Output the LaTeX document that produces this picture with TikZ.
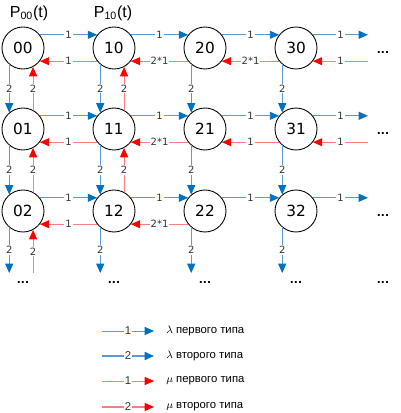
\documentclass[tikz,border=0pt]{standalone}
\usepackage{fontspec}
\setmainfont{Liberation Sans}
\newfontfamily\verd{DejaVu Sans}
\usetikzlibrary{arrows.meta}

\definecolor{lamline}{HTML}{5B9BD5}
\definecolor{lamtip}{HTML}{0070C0}
\definecolor{muline}{HTML}{FF7C80}
\definecolor{mutip}{HTML}{FF0000}

\tikzset{
  state/.style={circle, draw, line width=0.65pt, minimum size=31.5pt, inner sep=0pt,
    font=\verd\fontsize{11.5}{13}\selectfont},
  lam/.style={draw=lamline, line width=0.7pt,
    -{Triangle[length=7pt,width=6pt,color=lamtip]}},
  mu/.style={draw=muline, line width=0.7pt,
    -{Triangle[length=7pt,width=6pt,color=mutip]}},
  rate/.style={fill=white, inner sep=0.8pt, text=black!80,
    font=\verd\fontsize{7.5}{9}\selectfont},
  dots/.style={font=\verd\bfseries\fontsize{8}{9}\selectfont},
  legtext/.style={anchor=west, inner sep=0pt, font=\fontsize{8.5}{10}\selectfont},
}

\begin{document}
\begin{tikzpicture}[x=0.75pt, y=-0.75pt]
\useasboundingbox (0,0) rectangle (400,413);

% states
\foreach \i/\x in {0/23,1/114,2/205,3/296}
  \foreach \j/\y in {0/48,1/129,2/211}
    \node[state] (n\i\j) at (\x,\y) {\i\j};

\node (p00) at (29,13) {\fontsize{12}{14}\selectfont P\textsubscript{00}(t)};
\node (p10) at (113,13) {\fontsize{12}{14}\selectfont P\textsubscript{10}(t)};

% free ends
\coordinate (out0) at (368,48);
\coordinate (out1) at (368,129);
\coordinate (out2) at (368,211);
\coordinate (bot) at (0,273);

% lambda, first type
\foreach \j in {0,1,2}{
  \foreach \i/\k in {0/1,1/2,2/3}
    \draw[lam] (n\i\j.38) -- node[rate] {1} (n\k\j.142);
  \draw[lam] (n3\j.38) -- node[rate] {1} (n3\j.38 -| out\j);
}

% mu, first type
\foreach \j/\i/\k/\l in {0/0/1/1, 0/1/2/2*1, 0/2/3/2*1,
                         1/0/1/1, 1/1/2/2*1, 1/2/3/1,
                         2/0/1/1, 2/1/2/2*1}
  \draw[mu] (n\k\j.-142) -- node[rate] {\l} (n\i\j.-38);
\draw[mu] (n30.-38 -| out0) -- node[rate] {1} (n30.-38);
\draw[mu] (n31.-38 -| out1) -- node[rate] {1} (n31.-38);

% lambda, second type
\foreach \i in {0,1,2,3}{
  \draw[lam] (n\i0.-130) -- node[rate] {2} (n\i1.130);
  \draw[lam] (n\i1.-130) -- node[rate] {2} (n\i2.130);
  \draw[lam] (n\i2.-130) -- node[rate] {2} (n\i2.-130 |- bot);
}

% mu, second type
\foreach \i/\j/\k in {0/0/1, 0/1/2, 1/0/1, 1/1/2}
  \draw[mu] (n\i\k.62) -- node[rate] {2} (n\i\j.-62);
\draw[mu] (n02.-62 |- bot) -- node[rate] {2} (n02.-62);

% dots
\foreach \j/\y in {0/52,1/133,2/215}
  \node[dots] (r\j) at (383,\y) {...};
\foreach \i/\x in {0/23,1/114,2/205,3/296,4/383}
  \node[dots] (b\i) at (\x,282) {...};

% legend
\foreach \n/\y/\s/\w/\l/\t in {1/331/lam/0.7/1/$\lambda$ первого типа,
                               2/356/lam/1.3/2/$\lambda$ второго типа,
                               3/381/mu/0.7/1/$\mu$ первого типа,
                               4/407/mu/1.0/2/$\mu$ второго типа}{
  \coordinate (ls\n) at (102,\y);
  \coordinate (le\n) at (154,\y);
  \draw[\s, line width=\w pt] (ls\n) -- node[rate, font=\fontsize{8.5}{9}\selectfont] {\l} (le\n);
  \node[legtext] (lt\n) at (166,\y) {\t};
}
\end{tikzpicture}
\end{document}
